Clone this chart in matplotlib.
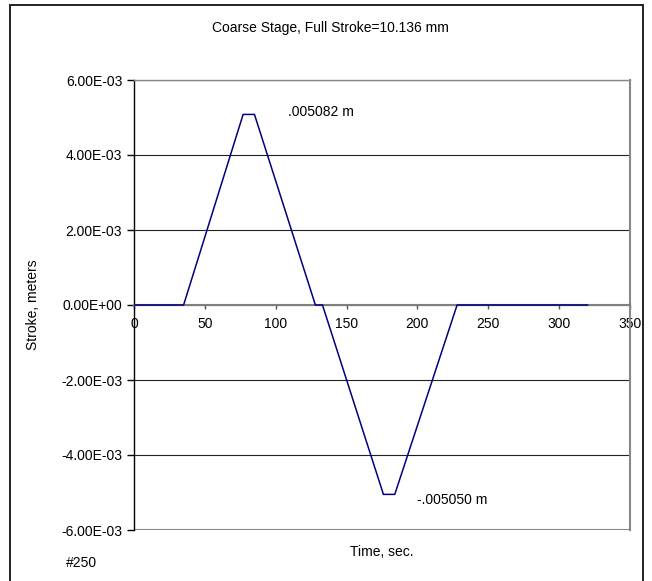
import matplotlib.pyplot as plt
from matplotlib.patches import Rectangle
from matplotlib.ticker import FuncFormatter, MultipleLocator

plt.rcParams['font.family'] = ['Liberation Sans', 'DejaVu Sans']
plt.rcParams['font.size'] = 10

# trapezoid stroke profile, vertices
time_s = [0, 35, 77, 85, 128, 133, 176, 184, 228, 320]
stroke_m = [0, 0, 5.082e-3, 5.082e-3, 0, 0, -5.05e-3, -5.05e-3, 0, 0]

x_lim = (0, 350)
y_lim = (-6e-3, 6e-3)
y_step = 2e-3
x_step = 50

fig = plt.figure(figsize=(6.52, 5.81), dpi=100)
fig.patch.set_facecolor('white')

# outer chart border (open at the bottom, like the crop)
fig.patches.append(Rectangle((10 / 652, -0.05), 633 / 652, 1.05 - 5 / 581,
                             transform=fig.transFigure, fill=False,
                             edgecolor='#222222', linewidth=1.4))

ax = fig.add_axes([134 / 652, 1 - 530 / 581, 496 / 652, 450 / 581])
ax.set_facecolor('white')

ax.plot(time_s, stroke_m, color='#000080', linewidth=1.1, zorder=3)

ax.set_xlim(*x_lim)
ax.set_ylim(*y_lim)
ax.yaxis.set_major_locator(MultipleLocator(y_step))
ax.xaxis.set_major_locator(MultipleLocator(x_step))
ax.yaxis.set_major_formatter(FuncFormatter(lambda v, p: f"{v:.2E}"))

ax.grid(axis='y', color='#222222', linewidth=0.8)
ax.grid(axis='x', visible=False)

ax.spines['left'].set_color('black')
ax.spines['left'].set_linewidth(1.0)
ax.spines['right'].set_color('#888888')
ax.spines['right'].set_linewidth(1.5)
ax.spines['top'].set_color('#888888')
ax.spines['top'].set_linewidth(1.0)
ax.spines['bottom'].set_position(('data', 0))
ax.spines['bottom'].set_color('#808080')
ax.spines['bottom'].set_linewidth(1.5)
ax.axhline(y_lim[0], color='#888888', linewidth=1.5, zorder=2)

ax.tick_params(axis='y', direction='out', length=5, width=1, color='black',
               pad=3.5, labelsize=10)
ax.tick_params(axis='x', direction='out', length=3, width=1, color='#555555',
               pad=5.5, labelsize=10)

ax.text(109, 5.15e-3, '.005082 m', va='center', ha='left', fontsize=10)
ax.text(200, -5.2e-3, '-.005050 m', va='center', ha='left', fontsize=10)

fig.text(330 / 652, 1 - 28 / 581, 'Coarse Stage, Full Stroke=10.136 mm',
         ha='center', va='center', fontsize=10)
fig.text(33 / 652, 1 - 305 / 581, 'Stroke, meters', rotation=90,
         ha='center', va='center', fontsize=10)
fig.text(382 / 652, 1 - 552 / 581, 'Time, sec.', ha='center', va='center',
         fontsize=10)
fig.text(66 / 652, 1 - 563 / 581, '#250', ha='left', va='center', fontsize=10)

fig.savefig('out.png', dpi=100, facecolor='white')
